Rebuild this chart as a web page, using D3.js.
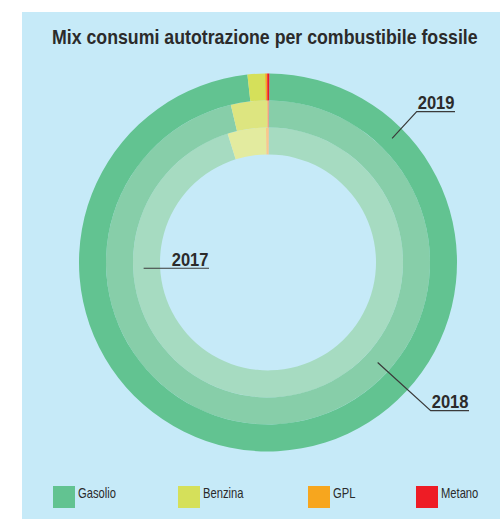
<!DOCTYPE html>
<html>
<head>
<meta charset="utf-8">
<script src="https://cdn.jsdelivr.net/npm/d3@7"></script>
<style>
  html, body { margin: 0; padding: 0; background: #ffffff; }
  svg { display: block; }
  text { font-family: "Liberation Sans", Arial, sans-serif; fill: #2b2b2b; }
</style>
</head>
<body>
<script>
// Fuel categories, in clockwise order from 12 o'clock
const fuels = ["Gasolio", "Benzina", "GPL", "Metano"];
// Years, from innermost ring to outermost ring
const years = ["2017", "2018", "2019"];
// Share of consumption (%) per year, same order as fuels
const share2017 = [95.05, 4.60, 0.33, 0.02];
const share2018 = [96.20, 3.60, 0.15, 0.05];
const share2019 = [98.15, 1.50, 0.17, 0.18];
const title = "Mix consumi autotrazione per combustibile fossile";

// Full-strength fuel colours (legend + outer ring) and lighter tints for inner rings
const fuelColors = ["#62c391", "#d5e05a", "#f7a61e", "#ee1c25"];
const tints = {
  "2017": ["#a6dbc1", "#e3eb9f", "#f9c98a", "#f38f87"],
  "2018": ["#87cea9", "#dde580", "#f8bd6e", "#f0636a"],
  "2019": fuelColors
};

const W = 500, H = 519;
const svg = d3.select("body").append("svg").attr("width", W).attr("height", H);

// Condensed lettering: a regular face squeezed horizontally
function condensed(parent, x, y, str, size, weight, anchor, sx) {
  return parent.append("text")
    .attr("transform", `translate(${x},${y}) scale(${sx},1)`)
    .attr("font-size", size)
    .attr("font-weight", weight)
    .attr("text-anchor", anchor)
    .text(str);
}

// light blue panel
svg.append("rect").attr("x", 22).attr("y", 12).attr("width", W - 22).attr("height", H - 12)
  .attr("fill", "#c6eaf8");

// title, squeezed to its line width
const t = condensed(svg, 52, 44, title, 20, "bold", "start", 1);
const tw = t.node().getComputedTextLength();
t.attr("transform", `translate(52,44) scale(${426 / tw},1)`);

const cx = 268, cy = 262.4;
const g = svg.append("g").attr("transform", `translate(${cx},${cy})`);

// one ring per year
const ringScale = d3.scaleBand().domain(years).range([108, 189]).paddingInner(0);
const pie = d3.pie().sort(null).startAngle(0.007).endAngle(2 * Math.PI + 0.007);
const shares = { "2017": share2017, "2018": share2018, "2019": share2019 };

years.forEach(y => {
  const r0 = ringScale(y), r1 = r0 + ringScale.bandwidth();
  const arc = d3.arc().innerRadius(r0).outerRadius(r1);
  g.append("g").selectAll("path")
    .data(pie(shares[y]))
    .join("path")
    .attr("d", arc)
    .attr("fill", (d, i) => tints[y][i]);
});

// year callouts: anchor point on the ring, elbow, underline end
const callouts = [
  { year: "2019", angle: 45, elbow: [416.7, 111.7], end: 455 },
  { year: "2018", angle: 132.4, elbow: [430.7, 410.7], end: 469 },
  { year: "2017", angle: 267.3, elbow: null, end: 209 }
];
callouts.forEach(c => {
  const rMid = ringScale(c.year) + ringScale.bandwidth() / 2 + (c.year === "2017" ? 3 : 0);
  const a = c.angle * Math.PI / 180;
  const px = cx + rMid * Math.sin(a), py = cy - rMid * Math.cos(a);
  const pts = c.elbow ? [[px, py], c.elbow, [c.end, c.elbow[1]]] : [[px, py], [c.end, py]];
  svg.append("path")
    .attr("d", d3.line()(pts))
    .attr("fill", "none").attr("stroke", "#3a3a3a").attr("stroke-width", 1.2);
  const ly = pts[pts.length - 1][1];
  condensed(svg, c.end - 0.5, ly - 2.5, c.year, 19, "bold", "end", 0.87);
});

// legend
const legendX = [53, 178, 308, 416];
const lg = svg.append("g");
fuels.forEach((f, i) => {
  lg.append("rect").attr("x", legendX[i]).attr("y", 486).attr("width", 22).attr("height", 22)
    .attr("fill", fuelColors[i]);
  condensed(lg, legendX[i] + 25, 497.5, f, 14, "normal", "start", 0.8);
});
</script>
</body>
</html>
